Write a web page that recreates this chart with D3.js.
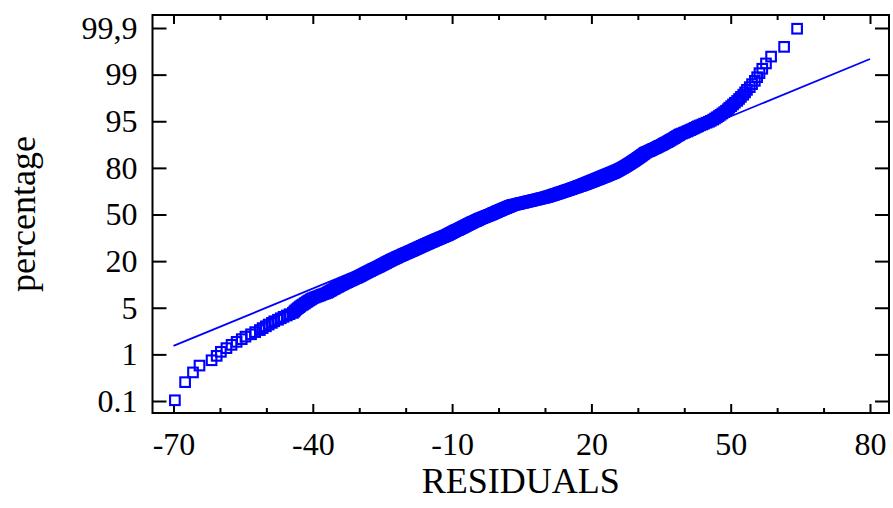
<!DOCTYPE html>
<html>
<head>
<meta charset="utf-8">
<script src="https://cdn.jsdelivr.net/npm/d3@7"></script>
<style>
  body { margin: 0; background: #fff; }
  text { font-family: "Liberation Serif", "Times New Roman", serif; fill: #000; }
</style>
</head>
<body>
<div id="chart"></div>
<script>
var residuals = [
  -69.7, -67.5, -65.8, -64.4, -61.8, -60.7, -59.8, -58.6, -57.5, -56.4,
  -55.3, -54.5, -53.3, -52.4, -51.4, -50.8, -50.1, -49.5, -48.8, -48.3,
  -47.5, -46.9, -46.3, -45.6, -45.0, -44.3, -44.0, -43.8, -43.5, -43.2,
  -42.9, -42.7, -42.4, -42.1, -41.8, -41.6, -41.3, -41.1, -40.8, -40.5,
  -40.3, -40.0, -39.6, -39.2, -38.8, -38.4, -38.1, -37.7, -37.3, -36.9,
  -36.7, -36.5, -36.2, -36.0, -35.8, -35.5, -35.3, -35.1, -34.9, -34.6,
  -34.4, -34.2, -34.0, -33.7, -33.5, -33.3, -33.1, -32.8, -32.6, -32.4,
  -32.2, -31.9, -31.7, -31.5, -31.3, -31.1, -30.8, -30.6, -30.4, -30.2,
  -30.0, -29.8, -29.6, -29.5, -29.3, -29.1, -29.0, -28.8, -28.6, -28.4,
  -28.3, -28.1, -27.9, -27.7, -27.6, -27.4, -27.2, -27.1, -26.9, -26.7,
  -26.5, -26.4, -26.2, -26.0, -25.8, -25.7, -25.5, -25.4, -25.2, -25.1,
  -24.9, -24.8, -24.6, -24.5, -24.3, -24.2, -24.1, -23.9, -23.8, -23.6,
  -23.5, -23.3, -23.2, -23.1, -22.9, -22.8, -22.6, -22.5, -22.3, -22.2,
  -22.0, -21.9, -21.8, -21.6, -21.5, -21.3, -21.2, -21.0, -20.9, -20.7,
  -20.6, -20.5, -20.3, -20.2, -20.0, -19.9, -19.7, -19.6, -19.4, -19.3,
  -19.2, -19.0, -18.9, -18.7, -18.6, -18.4, -18.3, -18.2, -18.1, -17.9,
  -17.8, -17.7, -17.5, -17.4, -17.3, -17.1, -17.0, -16.9, -16.8, -16.6,
  -16.5, -16.4, -16.2, -16.1, -16.0, -15.9, -15.7, -15.6, -15.5, -15.3,
  -15.2, -15.1, -15.0, -14.8, -14.7, -14.6, -14.4, -14.3, -14.2, -14.1,
  -13.9, -13.8, -13.7, -13.5, -13.4, -13.3, -13.2, -13.0, -12.9, -12.8,
  -12.6, -12.5, -12.4, -12.3, -12.1, -12.0, -11.9, -11.7, -11.6, -11.5,
  -11.4, -11.2, -11.1, -11.0, -10.9, -10.8, -10.7, -10.6, -10.5, -10.4,
  -10.3, -10.2, -10.1, -10.0, -9.9, -9.8, -9.7, -9.6, -9.5, -9.4,
  -9.3, -9.2, -9.1, -9.0, -8.8, -8.7, -8.6, -8.5, -8.4, -8.3,
  -8.2, -8.1, -8.0, -7.9, -7.8, -7.7, -7.6, -7.5, -7.4, -7.3,
  -7.2, -7.1, -7.0, -6.9, -6.8, -6.7, -6.6, -6.5, -6.4, -6.3,
  -6.2, -6.1, -6.0, -5.9, -5.8, -5.7, -5.6, -5.5, -5.4, -5.3,
  -5.1, -5.0, -4.9, -4.8, -4.7, -4.6, -4.5, -4.4, -4.3, -4.2,
  -4.1, -4.0, -3.9, -3.7, -3.6, -3.5, -3.4, -3.2, -3.1, -3.0,
  -2.9, -2.7, -2.6, -2.5, -2.4, -2.2, -2.1, -2.0, -1.9, -1.7,
  -1.6, -1.5, -1.4, -1.3, -1.2, -1.1, -1.0, -0.9, -0.7, -0.6,
  -0.5, -0.4, -0.3, -0.2, -0.1, 0.0, 0.2, 0.3, 0.4, 0.5,
  0.6, 0.7, 0.9, 1.0, 1.1, 1.2, 1.3, 1.5, 1.6, 1.7,
  1.8, 1.9, 2.1, 2.2, 2.3, 2.4, 2.5, 2.7, 2.8, 2.9,
  3.1, 3.3, 3.5, 3.8, 4.0, 4.2, 4.4, 4.6, 4.8, 5.0,
  5.3, 5.5, 5.7, 5.9, 6.1, 6.3, 6.5, 6.8, 7.0, 7.2,
  7.4, 7.6, 7.8, 8.1, 8.3, 8.5, 8.7, 8.9, 9.1, 9.3,
  9.6, 9.8, 10.0, 10.2, 10.4, 10.6, 10.7, 10.9, 11.1, 11.2,
  11.4, 11.6, 11.7, 11.9, 12.0, 12.2, 12.4, 12.5, 12.7, 12.9,
  13.0, 13.2, 13.3, 13.5, 13.7, 13.8, 14.0, 14.2, 14.3, 14.5,
  14.6, 14.8, 15.0, 15.1, 15.3, 15.5, 15.6, 15.8, 15.9, 16.1,
  16.3, 16.4, 16.6, 16.8, 16.9, 17.1, 17.2, 17.4, 17.6, 17.8,
  17.9, 18.1, 18.2, 18.4, 18.6, 18.7, 18.9, 19.0, 19.2, 19.3,
  19.5, 19.6, 19.8, 20.0, 20.1, 20.3, 20.4, 20.6, 20.7, 20.9,
  21.0, 21.2, 21.4, 21.5, 21.7, 21.8, 22.0, 22.1, 22.3, 22.4,
  22.6, 22.8, 22.9, 23.1, 23.2, 23.4, 23.5, 23.7, 23.8, 24.0,
  24.2, 24.3, 24.5, 24.7, 24.8, 24.9, 25.0, 25.2, 25.3, 25.4,
  25.5, 25.7, 25.8, 25.9, 26.0, 26.2, 26.3, 26.4, 26.5, 26.7,
  26.8, 26.9, 27.0, 27.2, 27.3, 27.4, 27.5, 27.7, 27.8, 27.9,
  28.0, 28.2, 28.3, 28.4, 28.5, 28.7, 28.8, 28.9, 29.0, 29.2,
  29.3, 29.4, 29.5, 29.7, 29.8, 29.9, 30.0, 30.2, 30.3, 30.4,
  30.5, 30.7, 30.8, 30.9, 31.0, 31.2, 31.3, 31.4, 31.5, 31.7,
  31.9, 32.1, 32.4, 32.6, 32.8, 33.0, 33.2, 33.4, 33.7, 33.9,
  34.1, 34.3, 34.5, 34.7, 35.0, 35.2, 35.4, 35.6, 35.8, 36.0,
  36.3, 36.5, 36.7, 36.9, 37.1, 37.3, 37.6, 37.8, 38.0, 38.2,
  38.4, 38.7, 38.9, 39.1, 39.5, 39.9, 40.2, 40.6, 40.9, 41.3,
  41.6, 42.0, 42.3, 42.7, 43.0, 43.4, 43.9, 44.3, 44.8, 45.3,
  45.7, 46.2, 46.6, 47.0, 47.4, 47.8, 48.2, 48.6, 49.0, 49.4,
  49.7, 50.1, 50.5, 50.9, 51.4, 51.8, 52.2, 52.7, 53.1, 53.5,
  54.1, 54.6, 55.2, 55.7, 56.2, 56.8, 57.6, 58.7, 61.5, 64.3
];

var pctTicks = [0.1, 1, 5, 20, 50, 80, 95, 99, 99.9];
var pctLabels = ["0.1", "1", "5", "20", "50", "80", "95", "99", "99,9"];
var xTicks = [-70, -40, -10, 20, 50, 80];
var xMinorTicks = [-60, -50, -30, -20, 0, 10, 30, 40, 60, 70];

// reference normal line: two end points (residual, percentage)
var fitX = [-70, 80];
var fitPct = [1.38, 99.51];

var width = 893, height = 508;
var frame = {left: 152.5, right: 889, top: 15, bottom: 413};

// inverse of the normal cdf (Acklam's approximation)
function probit(p) {
  var a = [-39.69683028665376, 220.9460984245205, -275.9285104469687, 138.3577518672690, -30.66479806614716, 2.506628277459239];
  var b = [-54.47609879822406, 161.5858368580409, -155.6989798598866, 66.80131188771972, -13.28068155288572];
  var c = [-0.007784894002430293, -0.3223964580411365, -2.400758277161838, -2.549732539343734, 4.374664141464968, 2.938163982698783];
  var d = [0.007784695709041462, 0.3224671290700398, 2.445134137142996, 3.754408661907416];
  var pl = 0.02425, q, r;
  if (p < pl) {
    q = Math.sqrt(-2 * Math.log(p));
    return (((((c[0]*q+c[1])*q+c[2])*q+c[3])*q+c[4])*q+c[5]) / ((((d[0]*q+d[1])*q+d[2])*q+d[3])*q+1);
  }
  if (p > 1 - pl) {
    q = Math.sqrt(-2 * Math.log(1 - p));
    return -(((((c[0]*q+c[1])*q+c[2])*q+c[3])*q+c[4])*q+c[5]) / ((((d[0]*q+d[1])*q+d[2])*q+d[3])*q+1);
  }
  q = p - 0.5; r = q * q;
  return (((((a[0]*r+a[1])*r+a[2])*r+a[3])*r+a[4])*r+a[5])*q / (((((b[0]*r+b[1])*r+b[2])*r+b[3])*r+b[4])*r+1);
}

// --- scales ---
var x = d3.scaleLinear().domain([-70, 80]).range([173.5, 870]);

// the percentage levels sit evenly on the axis, normal quantiles in between
var yLab = d3.scalePoint().domain(pctLabels).range([401, 28]);
var yz = d3.scaleLinear()
    .domain(pctTicks.map(function(p) { return probit(p / 100); }))
    .range(pctLabels.map(function(l) { return yLab(l); }));
function y(pct) { return yz(probit(pct / 100)); }

var n = residuals.length;
function plotPct(i) { return (i + 1 - 0.375) / (n + 0.25) * 100; }

var svg = d3.select("#chart").append("svg")
    .attr("width", width)
    .attr("height", height);

// --- axes ---
function styleAxis(g, size) {
  g.select(".domain").remove();
  g.selectAll(".tick line").attr("stroke", "#000").attr("stroke-width", 2);
  g.attr("font-family", "'Liberation Serif', 'Times New Roman', serif").attr("font-size", size);
  g.selectAll(".tick text").attr("fill", "#000");
}

svg.append("g")
    .attr("transform", "translate(0," + frame.bottom + ")")
    .call(d3.axisBottom(x).tickValues(xTicks).tickSize(-9).tickPadding(19).tickFormat(function(d) { return String(d); }))
    .call(styleAxis, 32);
svg.append("g")
    .attr("transform", "translate(0," + frame.bottom + ")")
    .call(d3.axisBottom(x).tickValues(xMinorTicks).tickSize(-5).tickFormat(""))
    .call(styleAxis, 32);
svg.append("g")
    .attr("transform", "translate(0," + frame.top + ")")
    .call(d3.axisTop(x).tickValues(xTicks).tickSize(-9).tickFormat(""))
    .call(styleAxis, 32);
svg.append("g")
    .attr("transform", "translate(0," + frame.top + ")")
    .call(d3.axisTop(x).tickValues(xMinorTicks).tickSize(-5).tickFormat(""))
    .call(styleAxis, 32);

svg.append("g")
    .attr("transform", "translate(" + frame.left + ",0)")
    .call(d3.axisLeft(yLab).tickSize(-14).tickPadding(15))
    .call(styleAxis, 32);
svg.append("g")
    .attr("transform", "translate(" + frame.right + ",0)")
    .call(d3.axisRight(yLab).tickSize(-14).tickFormat(""))
    .call(styleAxis, 32);

svg.append("rect")
    .attr("x", frame.left)
    .attr("y", frame.top)
    .attr("width", frame.right - frame.left)
    .attr("height", frame.bottom - frame.top)
    .attr("fill", "none")
    .attr("stroke", "#000")
    .attr("stroke-width", 2);

// --- points ---
svg.append("g").selectAll("rect")
    .data(residuals)
    .join("rect")
    .attr("x", function(d) { return x(d) - 4.8; })
    .attr("y", function(d, i) { return y(plotPct(i)) - 4.8; })
    .attr("width", 9.6)
    .attr("height", 9.6)
    .attr("fill", "none")
    .attr("stroke", "#0000ff")
    .attr("stroke-width", 2.1);

// --- reference line ---
var line = d3.line()
    .x(function(d) { return x(d); })
    .y(function(d, i) { return y(fitPct[i]); });
svg.append("path")
    .datum(fitX)
    .attr("d", line)
    .attr("fill", "none")
    .attr("stroke", "#0000ff")
    .attr("stroke-width", 1.8);

// --- labels ---
svg.append("text")
    .attr("x", (frame.left + frame.right) / 2)
    .attr("y", 493)
    .attr("text-anchor", "middle")
    .attr("font-size", 36)
    .text("RESIDUALS");

svg.append("text")
    .attr("transform", "translate(35," + (frame.top + frame.bottom) / 2 + ") rotate(-90)")
    .attr("text-anchor", "middle")
    .attr("font-size", 36)
    .text("percentage");
</script>
</body>
</html>
